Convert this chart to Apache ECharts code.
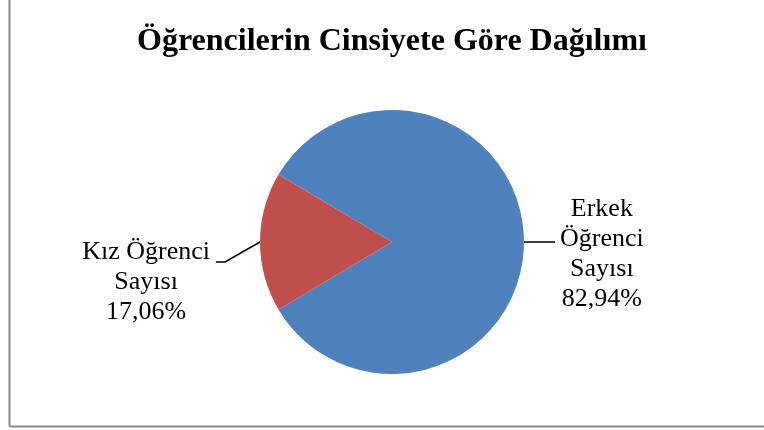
<!DOCTYPE html>
<html>
<head>
<meta charset="utf-8">
<script src="https://cdn.jsdelivr.net/npm/echarts@6/dist/echarts.min.js"></script>
<style>
html,body{margin:0;padding:0;background:#fff;}
#chart{width:764px;height:430px;}
</style>
</head>
<body>
<div id="chart"></div>
<script>
var titleText = 'Öğrencilerin Cinsiyete Göre Dağılımı';
var categories = ['Erkek Öğrenci Sayısı', 'Kız Öğrenci Sayısı'];
var labelTexts = ['Erkek\nÖğrenci\nSayısı', 'Kız Öğrenci\nSayısı'];
var values = [82.94, 17.06];
var colors = ['#4F81BD', '#C0504D'];

var chart = echarts.init(document.getElementById('chart'), null, {renderer: 'canvas'});

var data = categories.map(function (c, i) {
  return {name: c, value: values[i], itemStyle: {color: colors[i]}};
});

var option = {
  animation: false,
  backgroundColor: '#fff',
  title: {
    text: titleText,
    left: 387,
    textAlign: 'center',
    top: 21,
    textStyle: {fontFamily: 'Liberation Serif', fontWeight: 'bold', fontSize: 32, color: '#000'}
  },
  graphic: [
    {type: 'line', shape: {x1: 9.5, y1: 0, x2: 9.5, y2: 426.5}, style: {stroke: '#8c8c8c', lineWidth: 2}},
    {type: 'line', shape: {x1: 9.5, y1: 426.5, x2: 764, y2: 426.5}, style: {stroke: '#8c8c8c', lineWidth: 2}}
  ],
  series: [{
    type: 'pie',
    center: [392, 242],
    radius: 132,
    startAngle: 180 - values[1] * 3.6 / 2,
    clockwise: true,
    avoidLabelOverlap: false,
    data: data,
    label: {
      show: true,
      position: 'outside',
      distanceToLabelLine: 5,
      formatter: function (p) {
        return '{t|' + labelTexts[p.dataIndex] + '\n' + p.value.toFixed(2).replace('.', ',') + '%}';
      },
      rich: {
        t: {fontFamily: 'Liberation Serif', fontSize: 26, lineHeight: 30, color: '#000', align: 'center'}
      }
    },
    labelLine: {
      show: true,
      length: 22,
      length2: 9,
      smooth: false,
      lineStyle: {color: '#000', width: 1.5}
    },
    labelLayout: function (p) {
      var pts = p.labelLinePoints;
      if (p.dataIndex === 1 && pts) {
        var sx = -13, sy = 20;
        return {
          dx: sx - 1,
          dy: sy + 20,
          labelLinePoints: [pts[0], [pts[1][0] + sx, pts[1][1] + sy], [pts[2][0] + sx, pts[2][1] + sy]]
        };
      }
      return {dy: 12};
    }
  }]
};
chart.setOption(option);
</script>
</body>
</html>
